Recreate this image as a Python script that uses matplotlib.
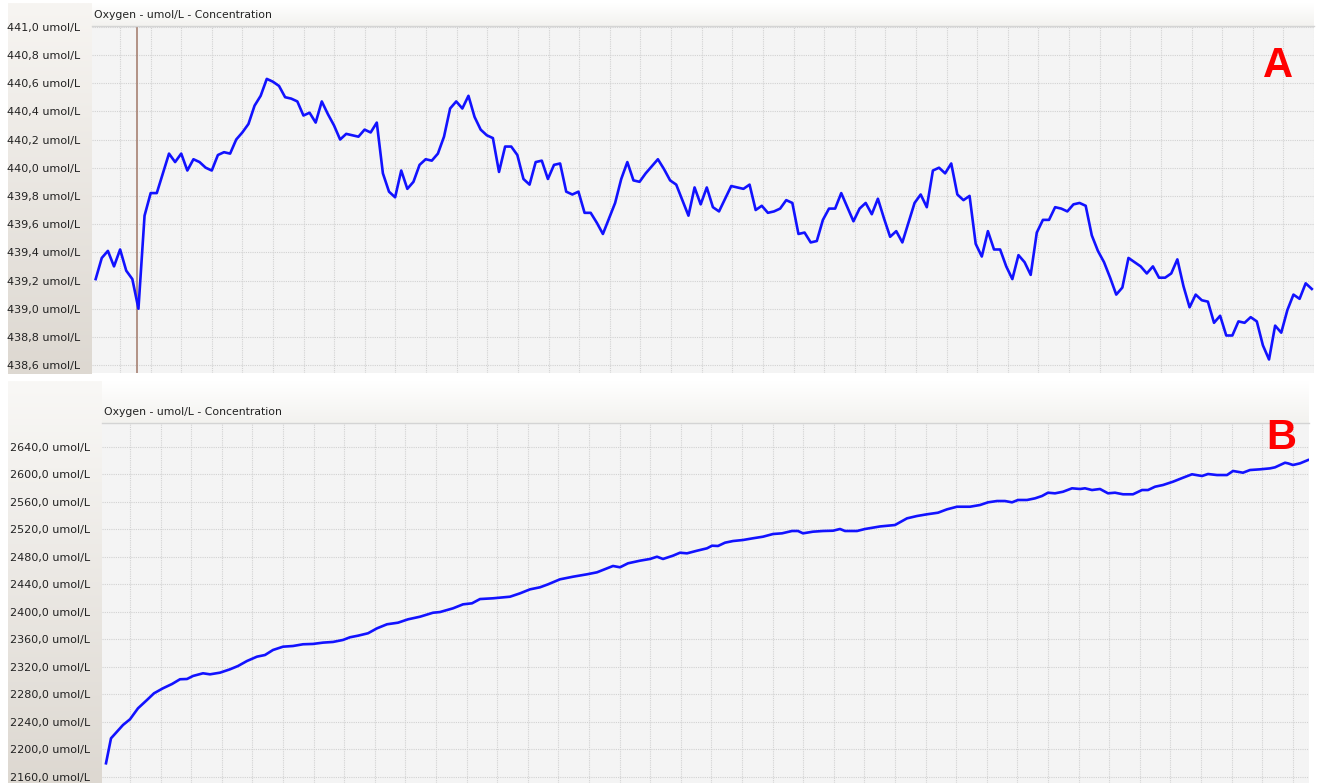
import numpy as np
import matplotlib
matplotlib.use("Agg")
import matplotlib.pyplot as plt
from matplotlib.colors import LinearSegmentedColormap

W, H, DPI = 1322, 783, 100

# ---------------- data ----------------
title_text = "Oxygen - umol/L - Concentration"
unit = "umol/L"

# Panel A: evenly sampled concentration (umol/L)
a_values = [
    439.21, 439.36, 439.41, 439.30, 439.42, 439.27, 439.21, 439.00, 439.66, 439.82,
    439.82, 439.96, 440.10, 440.04, 440.10, 439.98, 440.06, 440.04, 440.00, 439.98,
    440.09, 440.11, 440.10, 440.20, 440.25, 440.31, 440.44, 440.51, 440.63, 440.61,
    440.58, 440.50, 440.49, 440.47, 440.37, 440.39, 440.32, 440.47, 440.38, 440.30,
    440.20, 440.24, 440.23, 440.22, 440.27, 440.25, 440.32, 439.96, 439.83, 439.79,
    439.98, 439.85, 439.90, 440.02, 440.06, 440.05,
    440.10, 440.22, 440.42, 440.47, 440.42, 440.51, 440.36, 440.27, 440.23, 440.21,
    439.97, 440.15, 440.15, 440.09, 439.92, 439.88, 440.04, 440.05, 439.92, 440.02,
    440.03, 439.83, 439.81, 439.83, 439.68, 439.68, 439.61, 439.53, 439.64, 439.75,
    439.92, 440.04, 439.91, 439.90, 439.96, 440.01, 440.06, 439.99, 439.91, 439.88,
    439.77, 439.66, 439.86, 439.74, 439.86, 439.72, 439.69, 439.78, 439.87, 439.86,
    439.85, 439.88, 439.70, 439.73, 439.68, 439.69, 439.71, 439.77, 439.75, 439.53,
    439.54, 439.47, 439.48, 439.63, 439.71, 439.71, 439.82, 439.72, 439.62, 439.71,
    439.75, 439.67,
    439.78, 439.64, 439.51, 439.55, 439.47, 439.61, 439.75, 439.81, 439.72, 439.98,
    440.00, 439.96, 440.03, 439.81, 439.77, 439.80, 439.46, 439.37, 439.55, 439.42,
    439.42, 439.30, 439.21, 439.38, 439.33, 439.24, 439.54, 439.63, 439.63, 439.72,
    439.71, 439.69, 439.74, 439.75, 439.73, 439.52, 439.41, 439.33, 439.22, 439.10,
    439.15, 439.36, 439.33, 439.30, 439.25, 439.30, 439.22, 439.22, 439.25, 439.35,
    439.16, 439.01, 439.10, 439.06, 439.05, 438.90, 438.95, 438.81, 438.81, 438.91,
    438.90, 438.94, 438.91, 438.74, 438.64, 438.88, 438.83, 438.99, 439.10, 439.07,
    439.18, 439.14,
]
a_cursor = 6.8  # sample position of the brown cursor line
a_ticks = [438.6, 438.8, 439.0, 439.2, 439.4, 439.6, 439.8, 440.0, 440.2, 440.4,
           440.6, 440.8, 441.0]

# Panel B: time (s) and concentration (umol/L)
b_time = [
    0, 5, 11, 17, 24, 32, 41, 48, 57, 66,
    74, 81, 87, 97, 104, 114, 124, 132, 141, 151,
    159, 167, 177, 187, 197, 207, 217, 227, 237, 244,
    252, 262, 271, 281, 292, 302, 314, 327, 334, 347,
    357, 366, 374, 387, 404, 414, 424, 434, 442, 454,
    467, 481, 491, 501, 507, 514, 522, 534, 544, 551,
    557, 567, 574, 581, 591, 601, 606, 612, 619, 627,
    637, 647, 657, 667, 676, 686, 692, 697, 707, 717,
    727, 734, 739, 751, 759, 767, 774, 789, 801, 811,
    821, 832, 841, 851, 864, 874, 882, 891, 899, 906,
    912, 921, 929, 936, 942, 949, 957, 966, 974, 979,
    986, 994, 1002, 1009, 1017, 1027, 1036, 1042, 1049, 1057,
    1067, 1077, 1086, 1096, 1102, 1111, 1121, 1127, 1137, 1144,
    1154, 1164, 1169, 1179, 1182, 1187, 1194, 1202,
]
b_values = [
    2179.5, 2215.8, 2225.5, 2235.2, 2243.5, 2259.5, 2271.6, 2281.3, 2288.6, 2294.8,
    2301.7, 2302.1, 2306.5, 2310.4, 2308.9, 2311.3, 2316.2, 2321.0, 2328.3, 2334.6,
    2337.0, 2344.3, 2349.1, 2350.1, 2352.6, 2353.1, 2355.0, 2356.0, 2358.9, 2362.8,
    2365.1, 2368.6, 2375.8, 2381.7, 2384.0, 2388.9, 2392.7, 2398.5, 2399.5, 2404.9,
    2410.7, 2412.2, 2418.4, 2419.5, 2421.8, 2426.7, 2432.5, 2435.5, 2439.8, 2447.1,
    2450.9, 2454.4, 2457.3, 2463.1, 2466.5, 2464.6, 2470.4, 2474.2, 2476.7, 2480.0,
    2476.7, 2481.5, 2485.8, 2484.9, 2488.7, 2492.2, 2496.0, 2495.6, 2500.4, 2502.8,
    2504.3, 2506.8, 2509.1, 2513.0, 2514.0, 2517.4, 2517.4, 2514.0, 2516.4, 2517.4,
    2517.8, 2520.3, 2517.4, 2517.4, 2520.3, 2522.2, 2524.0, 2526.1, 2535.8, 2539.2,
    2541.7, 2544.0, 2548.9, 2552.7, 2552.7, 2555.2, 2559.1, 2561.0, 2561.0, 2559.1,
    2562.5, 2562.5, 2564.9, 2568.3, 2573.1, 2572.2, 2574.5, 2579.5, 2578.5, 2579.5,
    2577.0, 2578.5, 2572.2, 2573.1, 2570.8, 2570.8, 2577.0, 2577.0, 2581.8, 2584.3,
    2589.1, 2594.9, 2599.9, 2597.4, 2600.3, 2598.8, 2598.8, 2604.7, 2602.2, 2606.1,
    2607.1, 2608.5, 2610.0, 2616.7, 2615.8, 2613.4, 2615.8, 2620.6,
]
b_ticks = [2160, 2200, 2240, 2280, 2320, 2360, 2400, 2440, 2480, 2520, 2560, 2600, 2640]

panel_labels = ["A", "B"]

# ---------------- helpers ----------------
LINE_COLOR = "#1212ff"
PLOT_BG = "#f4f4f4"
GRID_COLOR = "#d2d2d2"
FONT = "DejaVu Sans"


def px_axes(fig, x0, y0, x1, y1, **kw):
    return fig.add_axes([x0 / W, 1 - y1 / H, (x1 - x0) / W, (y1 - y0) / H], **kw)


def gradient(fig, box, c_top, c_bot):
    ax = px_axes(fig, *box)
    cmap = LinearSegmentedColormap.from_list("g", [c_top, c_bot])
    ax.imshow(np.linspace(0, 1, 256).reshape(-1, 1), aspect="auto", cmap=cmap,
              extent=(0, 1, 0, 1), interpolation="bilinear")
    ax.set_axis_off()
    ax.set_zorder(0)
    return ax


def fmt(v):
    return f"{v:.1f}".replace(".", ",") + " " + unit


def style_plot(ax, ticks, xgrid):
    ax.set_facecolor(PLOT_BG)
    for s in ("left", "right", "bottom"):
        ax.spines[s].set_visible(False)
    ax.spines["top"].set_color("#d4d4d4")
    ax.spines["top"].set_linewidth(1.0)
    ax.set_yticks(ticks)
    ax.set_yticklabels([fmt(v) for v in ticks], fontsize=8, family=FONT, color="#222222")
    ax.tick_params(axis="y", length=0, pad=8.6)
    ax.set_xticks(xgrid)
    ax.tick_params(axis="x", length=0, labelbottom=False)
    ax.grid(True, color=GRID_COLOR, linestyle=(0, (1, 1)), linewidth=0.8)
    ax.set_axisbelow(True)
    ax.set_zorder(2)


fig = plt.figure(figsize=(W / DPI, H / DPI), dpi=DPI, facecolor="white")

# ---------------- panel A ----------------
gradient(fig, (8, 3, 92, 374), "#f7f5f2", "#ddd8d1")
gradient(fig, (92, 3, 1314, 26), "#ffffff", "#f3f2ef")
axA = px_axes(fig, 92, 26, 1314, 373)
a_x = np.arange(len(a_values))
axA.plot(a_x, a_values, color=LINE_COLOR, lw=1.9, zorder=3)
axA.axvline(a_cursor, color="#a07868", lw=1.1, zorder=2.5)
axA.set_xlim(-0.6, 199.05)
axA.set_ylim(438.544, 441.005)
style_plot(axA, a_ticks, np.arange(3.97, 200, 5.01))
fig.text(94 / W, 1 - 15 / H, title_text, fontsize=7.8, family=FONT,
         ha="left", va="center", color="#222222")
fig.text(1278 / W, 1 - 66 / H, panel_labels[0], fontsize=30, fontweight="bold",
         family="Liberation Sans", color="#ff0000", ha="center", va="center", zorder=10)

# ---------------- panel B ----------------
gradient(fig, (8, 381, 102, 783), "#f9f8f6", "#ddd8d1")
gradient(fig, (102, 381, 1309, 423), "#ffffff", "#f3f2ef")
axB = px_axes(fig, 102, 423, 1309, 783)
axB.plot(b_time, b_values, color=LINE_COLOR, lw=1.9, zorder=3)
axB.set_xlim(-4, 1203)
axB.set_ylim(2150.8, 2674.5)
style_plot(axB, b_ticks, np.arange(24, 1203, 30.6))
fig.text(104 / W, 1 - 412 / H, title_text, fontsize=7.8, family=FONT,
         ha="left", va="center", color="#222222")
fig.text(1281 / W, 1 - 438 / H, panel_labels[1], fontsize=30, fontweight="bold",
         family="Liberation Sans", color="#ff0000", ha="center", va="center", zorder=10)

fig.savefig("out.png", dpi=DPI, facecolor="white")
